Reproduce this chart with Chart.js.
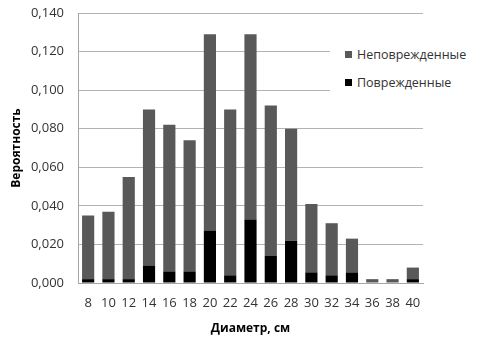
<!DOCTYPE html>
<html>
<head>
<meta charset="utf-8">
<script src="https://cdn.jsdelivr.net/npm/chart.js@4"></script>
<style>
  html, body { margin: 0; padding: 0; background: #fff; }
  #wrap { position: relative; width: 479px; height: 340px; }
  #legend {
    position: absolute; left: 330px; top: 36px; width: 149px; height: 68px;
    background: #fff; font-family: "Open Sans", sans-serif; font-size: 12.5px; color: #333;
  }
  .item { position: absolute; left: 15px; height: 16px; line-height: 16px; white-space: nowrap; }
  .item span { display: inline-block; width: 7px; height: 7px; margin-right: 5px; vertical-align: 1px; }
</style>
</head>
<body>
<div id="wrap">
  <canvas id="chart" width="479" height="340"></canvas>
  <div id="legend">
    <div class="item" style="top:11px"><span style="background:#595959"></span>Неповрежденные</div>
    <div class="item" style="top:39px"><span style="background:#000"></span>Поврежденные</div>
  </div>
</div>
<script>
const diameters = ["8", "10", "12", "14", "16", "18", "20", "22", "24", "26", "28", "30", "32", "34", "36", "38", "40"];
const damaged = [0.002, 0.002, 0.002, 0.009, 0.006, 0.006, 0.027, 0.004, 0.033, 0.014, 0.022, 0.0055, 0.004, 0.0055, 0, 0, 0.002];
const undamaged = [0.033, 0.035, 0.053, 0.081, 0.076, 0.068, 0.102, 0.086, 0.096, 0.078, 0.058, 0.0355, 0.027, 0.0175, 0.002, 0.002, 0.006];

const font = "'Open Sans', sans-serif";

new Chart(document.getElementById("chart").getContext("2d"), {
    type: "bar",
    data: {
        labels: diameters,
        datasets: [{
            label: "Поврежденные",
            data: damaged,
            backgroundColor: "#000000",
            barPercentage: 0.6,
            categoryPercentage: 1
        }, {
            label: "Неповрежденные",
            data: undamaged,
            backgroundColor: "#595959",
            barPercentage: 0.6,
            categoryPercentage: 1
        }]
    },
    options: {
        responsive: false,
        animation: false,
        layout: { padding: { left: 0, right: 56, top: 13, bottom: 0 } },
        plugins: { legend: { display: false }, tooltip: { enabled: false } },
        scales: {
            x: {
                stacked: true,
                grid: { display: false, drawTicks: false },
                border: { color: "#a6a6a6" },
                ticks: { color: "#333", font: { family: font, size: 13 }, padding: 12, maxRotation: 0, autoSkip: false },
                title: { display: true, text: "Диаметр, см", color: "#000", font: { family: font, size: 12, weight: "bold" }, padding: { top: 4 } },
                afterFit: function (scale) { scale.height = 57; scale.paddingLeft = 0; scale.paddingRight = 0; }
            },
            y: {
                stacked: true,
                min: 0,
                max: 0.14,
                grid: { color: "#b3b3b3", drawTicks: false },
                border: { color: "#a6a6a6" },
                ticks: {
                    stepSize: 0.02,
                    color: "#333",
                    font: { family: font, size: 13 },
                    padding: 14,
                    callback: function (v) { return v.toFixed(3).replace(".", ","); }
                },
                title: { display: true, text: "Вероятность", color: "#000", font: { family: font, size: 12, weight: "bold" }, padding: { top: 9, bottom: 0 } },
                afterFit: function (scale) { scale.width = 78; scale.paddingTop = 0; scale.paddingBottom = 0; }
            }
        }
    }
});
</script>
</body>
</html>
